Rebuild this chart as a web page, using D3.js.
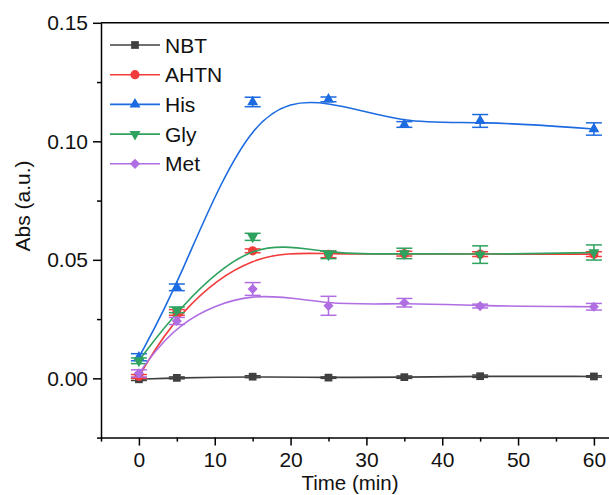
<!DOCTYPE html>
<html>
<head>
<meta charset="utf-8">
<script src="https://cdn.jsdelivr.net/npm/d3@7"></script>
<style>
  html, body { margin: 0; padding: 0; background: #fff; }
  svg { display: block; font-family: "Liberation Sans", Arial, sans-serif; }
</style>
</head>
<body>
<svg id="chart" width="609" height="495"></svg>
<script>
// Sampling times (min)
const times = [0, 5, 15, 25, 35, 45, 60];

// Absorbance means and standard deviations for each sample
const nbtValues  = [-0.0004, 0.0002, 0.0007, 0.0003, 0.0005, 0.0009, 0.0008];
const nbtErrors  = [0.0005, 0.0004, 0.0004, 0.0003, 0.0005, 0.0005, 0.0003];
const ahtnValues = [0.0008, 0.0278, 0.0538, 0.0523, 0.0526, 0.0524, 0.0524];
const ahtnErrors = [0.0008, 0.0012, 0.0008, 0.0014, 0.0010, 0.0010, 0.0010];
const hisValues  = [0.0089, 0.0384, 0.1166, 0.1177, 0.1071, 0.1086, 0.1052];
const hisErrors  = [0.0015, 0.0014, 0.0020, 0.0010, 0.0012, 0.0027, 0.0026];
const glyValues  = [0.0074, 0.0289, 0.0597, 0.0521, 0.0527, 0.0522, 0.0531];
const glyErrors  = [0.0012, 0.0012, 0.0015, 0.0016, 0.0022, 0.0037, 0.0032];
const metValues  = [0.0021, 0.0242, 0.0377, 0.0306, 0.0319, 0.0305, 0.0302];
const metErrors  = [0.0015, 0.0015, 0.0027, 0.0040, 0.0018, 0.0008, 0.0014];

const seriesNames = ["NBT", "AHTN", "His", "Gly", "Met"];

// Axis ticks
const xMajorTicks = [0, 10, 20, 30, 40, 50, 60];
const xMinorTicks = [-5, 5, 15, 25, 35, 45, 55, 65];
const yMajorTicks = [0, 0.05, 0.10, 0.15];
const yMinorTicks = [-0.025, 0.025, 0.075, 0.125];

const series = [
  { name: seriesNames[0], values: nbtValues,  errors: nbtErrors,  color: "#404040", symbol: "square" },
  { name: seriesNames[1], values: ahtnValues, errors: ahtnErrors, color: "#f23c3c", symbol: "circle" },
  { name: seriesNames[2], values: hisValues,  errors: hisErrors,  color: "#1c6be0", symbol: "up" },
  { name: seriesNames[3], values: glyValues,  errors: glyErrors,  color: "#2ea25e", symbol: "down" },
  { name: seriesNames[4], values: metValues,  errors: metErrors,  color: "#b06ee3", symbol: "diamond" }
];

const svg = d3.select("#chart");
const plot = { left: 101, top: 22.8, bottom: 437.6 };
const x = d3.scaleLinear().domain([-5, 65]).range([plot.left, plot.left + 70 * 7.583]);
const y = d3.scaleLinear().domain([-0.025, 0.15]).range([plot.bottom, plot.top]);

// Marker shapes
function markerPath(kind) {
  switch (kind) {
    case "square":  return d3.symbol(d3.symbolSquare, 60)();
    case "circle":  return d3.symbol(d3.symbolCircle, 66)();
    case "up":      return d3.symbol(d3.symbolTriangle, 52)();
    case "down":    return d3.symbol(d3.symbolTriangle, 52)();
    case "diamond": return d3.symbol(d3.symbolSquare, 52)();
  }
}
function markerRotate(kind) {
  if (kind === "down") return " rotate(180)";
  if (kind === "diamond") return " rotate(45)";
  return "";
}

// Frame: top border line
svg.append("line")
  .attr("x1", x(-5)).attr("x2", x(65))
  .attr("y1", y(0.15)).attr("y2", y(0.15))
  .attr("stroke", "#000").attr("stroke-width", 1.5);

// Y axis
const yAxis = svg.append("g")
  .attr("transform", `translate(${plot.left},0)`)
  .call(d3.axisLeft(y).tickValues(yMajorTicks).tickFormat(d3.format(".2f"))
    .tickSize(8).tickSizeOuter(0).tickPadding(5));
yAxis.selectAll(".tick text").attr("font-size", 21).attr("fill", "#111")
  .attr("font-family", "Liberation Sans, Arial, sans-serif");
yAxis.selectAll(".tick line").attr("stroke-width", 1.5);
yAxis.select(".domain").attr("stroke-width", 1.5);
svg.append("g")
  .attr("transform", `translate(${plot.left},0)`)
  .call(d3.axisLeft(y).tickValues(yMinorTicks).tickFormat("").tickSize(4).tickSizeOuter(0))
  .call(g => g.select(".domain").remove())
  .selectAll(".tick line").attr("stroke-width", 1.5);

// X axis
const xAxis = svg.append("g")
  .attr("transform", `translate(0,${plot.bottom})`)
  .call(d3.axisBottom(x).tickValues(xMajorTicks).tickFormat(d3.format("d"))
    .tickSize(8).tickSizeOuter(0).tickPadding(6));
xAxis.selectAll(".tick text").attr("font-size", 21).attr("fill", "#111")
  .attr("font-family", "Liberation Sans, Arial, sans-serif");
xAxis.selectAll(".tick line").attr("stroke-width", 1.5);
xAxis.select(".domain").attr("stroke-width", 1.5);
svg.append("g")
  .attr("transform", `translate(0,${plot.bottom})`)
  .call(d3.axisBottom(x).tickValues(xMinorTicks).tickFormat("").tickSize(4).tickSizeOuter(0))
  .call(g => g.select(".domain").remove())
  .selectAll(".tick line").attr("stroke-width", 1.5);

// Axis titles
svg.append("text")
  .attr("x", 350).attr("y", 490)
  .attr("text-anchor", "middle").attr("font-size", 20.5).attr("fill", "#111")
  .text("Time (min)");
svg.append("text")
  .attr("transform", "translate(30,206) rotate(-90)")
  .attr("text-anchor", "middle").attr("font-size", 21).attr("fill", "#111")
  .text("Abs (a.u.)");

// Smoothed B-spline curves, error bars and markers
const line = d3.line()
  .x(d => x(d.t))
  .y(d => y(d.v))
  .curve(d3.curveBasis);

series.forEach(s => {
  const pts = times.map((t, i) => ({ t, v: s.values[i], e: s.errors[i] }));
  const g = svg.append("g");
  g.append("path")
    .datum(pts)
    .attr("d", line)
    .attr("fill", "none")
    .attr("stroke", s.color)
    .attr("stroke-width", 1.6);

  const eb = g.selectAll(".err").data(pts).enter().append("g")
    .attr("stroke", s.color).attr("stroke-width", 1.5);
  eb.append("line")
    .attr("x1", d => x(d.t)).attr("x2", d => x(d.t))
    .attr("y1", d => y(d.v - d.e)).attr("y2", d => y(d.v + d.e));
  eb.append("line")
    .attr("x1", d => x(d.t) - 8).attr("x2", d => x(d.t) + 8)
    .attr("y1", d => y(d.v + d.e)).attr("y2", d => y(d.v + d.e));
  eb.append("line")
    .attr("x1", d => x(d.t) - 8).attr("x2", d => x(d.t) + 8)
    .attr("y1", d => y(d.v - d.e)).attr("y2", d => y(d.v - d.e));

  g.selectAll(".mk").data(pts).enter().append("path")
    .attr("d", markerPath(s.symbol))
    .attr("transform", d => `translate(${x(d.t)},${y(d.v)})${markerRotate(s.symbol)}`)
    .attr("fill", s.color);
});

// Legend
const legend = svg.append("g");
series.forEach((s, i) => {
  const cy = 45 + i * 29.7;
  legend.append("line")
    .attr("x1", 110).attr("x2", 160).attr("y1", cy).attr("y2", cy)
    .attr("stroke", s.color).attr("stroke-width", 1.6);
  legend.append("path")
    .attr("d", markerPath(s.symbol))
    .attr("transform", `translate(135,${cy})${markerRotate(s.symbol)}`)
    .attr("fill", s.color);
  legend.append("text")
    .attr("x", 165).attr("y", cy + 7.5)
    .attr("font-size", 21).attr("fill", "#111")
    .text(s.name);
});
</script>
</body>
</html>
